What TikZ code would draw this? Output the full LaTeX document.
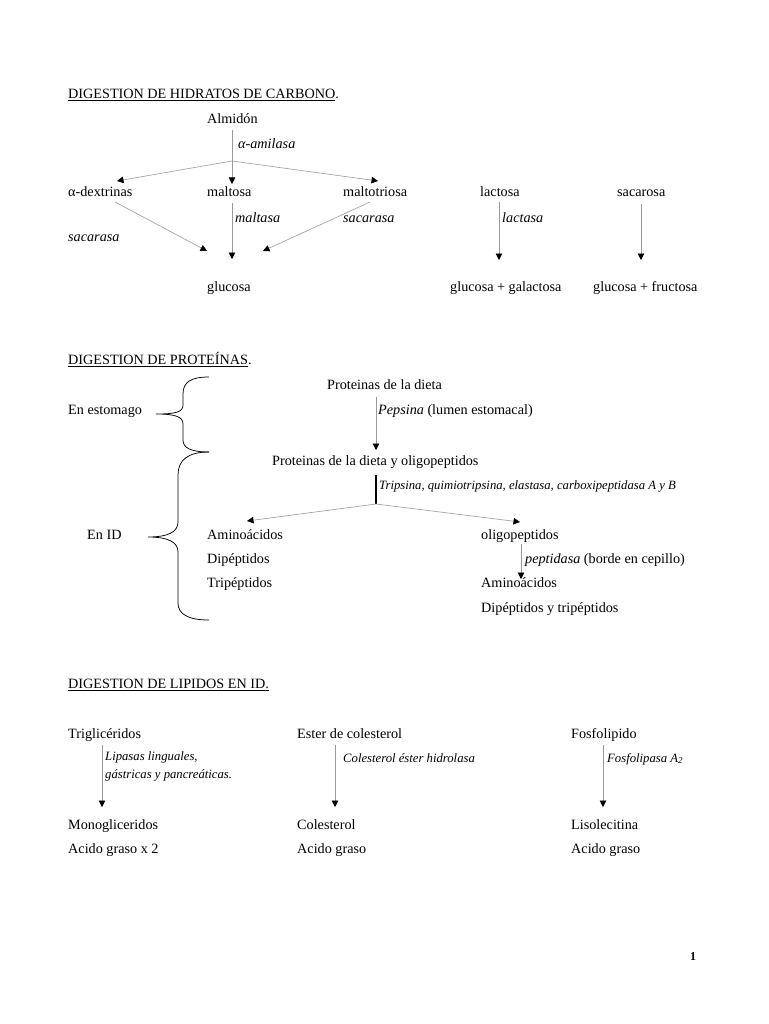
\documentclass[tikz,border=0pt]{standalone}
\usepackage{fontspec}
\setmainfont{Liberation Serif}
\usetikzlibrary{arrows.meta}
\begin{document}
\begin{tikzpicture}[x=1pt,y=-1pt,
  txt/.style={font=\fontsize{14.2}{16}\selectfont, inner sep=0pt, anchor=west, text height=10pt, text depth=3pt},
  enz/.style={font=\fontsize{14.2}{16}\selectfont\itshape, inner sep=0pt, anchor=west, text height=10pt, text depth=3pt},
  senz/.style={font=\fontsize{12.7}{18}\selectfont\itshape, inner sep=0pt, anchor=west, align=left, text height=9pt, text depth=3pt},
  senzml/.style={font=\fontsize{12.7}{18}\selectfont\itshape, inner sep=0pt, anchor=north west, align=left},
  conn/.style={draw=black!40, line width=0.6pt, -{Triangle[color=black,length=6.5pt,width=6.5pt]}},
  thick line/.style={draw=black, line width=1.2pt},
  bracestroke/.style={draw=black, line width=0.75pt}]
\useasboundingbox (0,0) rectangle (768,1024);

% ---------- Section 1 ----------
\node[txt] (t1) at (68,95) {\underline{DIGESTION DE HIDRATOS DE CARBONO}.};
\node[txt] (alm) at (207,120) {Almidón};
\node[enz] (amil) at (238,145) {α-amilasa};
\node[txt] (adex) at (68,193) {α-dextrinas};
\node[txt] (malt) at (207,193) {maltosa};
\node[txt] (mtri) at (343,193) {maltotriosa};
\node[txt] (lac) at (480,193) {lactosa};
\node[txt] (sac) at (617,193) {sacarosa};
\node[enz] (maltasa) at (235,219) {maltasa};
\node[enz] (sac2) at (343,219) {sacarasa};
\node[enz] (sac1) at (68,238) {sacarasa};
\node[enz] (lactasa) at (502,219) {lactasa};
\node[txt] (glu) at (207,288) {glucosa};
\node[txt] (gg) at (450,288) {glucosa + galactosa};
\node[txt] (gf) at (593,288) {glucosa + fructosa};

\coordinate (br1) at (232,161);
\coordinate (a1s) at (232,130);
\coordinate (a1e) at (232,184);
\coordinate (adexT) at (117,181);
\coordinate (mtriT) at (378,181);
\draw[conn] (a1s) -- (a1e);
\draw[conn] (br1) -- (adexT);
\draw[conn] (br1) -- (mtriT);
\draw[conn] (115,202) -- (207,251);
\draw[conn] (232,203) -- (232,259);
\draw[conn] (370,202) -- (263,251);
\draw[conn] (499,202) -- (499,260);
\draw[conn] (641,204) -- (641,260);

% ---------- Section 2 ----------
\node[txt] (t2) at (68,361) {\underline{DIGESTION DE PROTEÍNAS}.};
\node[txt] (p1) at (327,386) {Proteinas de la dieta};
\node[txt] (peps) at (378,411) {\textit{Pepsina} (lumen estomacal)};
\node[txt] (p2) at (272,462) {Proteinas de la dieta y oligopeptidos};
\node[senz] (trip) at (379,486) {Tripsina, quimiotripsina, elastasa, carboxipeptidasa A y B};
\node[txt] (estom) at (68,411) {En estomago};
\node[txt] (enid) at (87,536) {En ID};
\node[txt] (am1) at (207,536) {Aminoácidos};
\node[txt] (dip1) at (207,560) {Dipéptidos};
\node[txt] (tri1) at (207,584) {Tripéptidos};
\node[txt] (oli) at (481,536) {oligopeptidos};
\node[txt] (pept) at (525,560) {\textit{peptidasa} (borde en cepillo)};
\node[txt] (am2) at (481,584) {Aminoácidos};
\node[txt] (dt2) at (481,609) {Dipéptidos y tripéptidos};

\coordinate (b2s) at (376,397);
\coordinate (b2e) at (376,450);
\coordinate (b3s) at (376,475);
\coordinate (br2) at (376,504);
\coordinate (amT) at (247,521);
\coordinate (oliT) at (520,522);
\draw[conn] (b2s) -- (b2e);
\draw[thick line] (b3s) -- (br2);
\draw[conn] (br2) -- (amT);
\draw[conn] (br2) -- (oliT);
\draw[conn] (521,544) -- (521,579);

% braces
\draw[bracestroke] (209,377) .. controls (191,377) and (183,382) .. (183,394) -- (183,405)
  .. controls (183,412) and (176,414) .. (156,414)
  .. controls (176,414) and (183,417) .. (183,424) -- (183,440)
  .. controls (183,448) and (191,452) .. (209,452);
\draw[bracestroke] (209,452) .. controls (188,452) and (178,460) .. (178,475) -- (178,522)
  .. controls (178,532) and (168,537) .. (148,537)
  .. controls (168,537) and (178,542) .. (178,552) -- (178,603)
  .. controls (178,614) and (188,620) .. (209,620);

% ---------- Section 3 ----------
\node[txt] (t3) at (68,685) {\underline{DIGESTION DE LIPIDOS EN ID.}};
\node[txt] (trig) at (68,735) {Triglicéridos};
\node[senzml] (lip) at (105,751) {Lipasas linguales,\\gástricas y pancreáticas.};
\node[txt] (mono) at (68,826) {Monogliceridos};
\node[txt] (ag1) at (68,850) {Acido graso x 2};
\node[txt] (ester) at (297,735) {Ester de colesterol};
\node[senz] (ceh) at (343,759) {Colesterol éster hidrolasa};
\node[txt] (col) at (297,826) {Colesterol};
\node[txt] (ag2) at (297,850) {Acido graso};
\node[txt] (fos) at (571,735) {Fosfolipido};
\node[senz] (fla) at (607,759) {Fosfolipasa A\textsubscript{2}};
\node[txt] (liso) at (571,826) {Lisolecitina};
\node[txt] (ag3) at (571,850) {Acido graso};

\draw[conn] (102,745) -- (102,807);
\draw[conn] (335,745) -- (335,807);
\draw[conn] (603,745) -- (603,807);

% page number
\node[font=\fontsize{12}{14}\selectfont\bfseries, inner sep=0pt] (pg) at (693,957) {1};
\end{tikzpicture}
\end{document}
